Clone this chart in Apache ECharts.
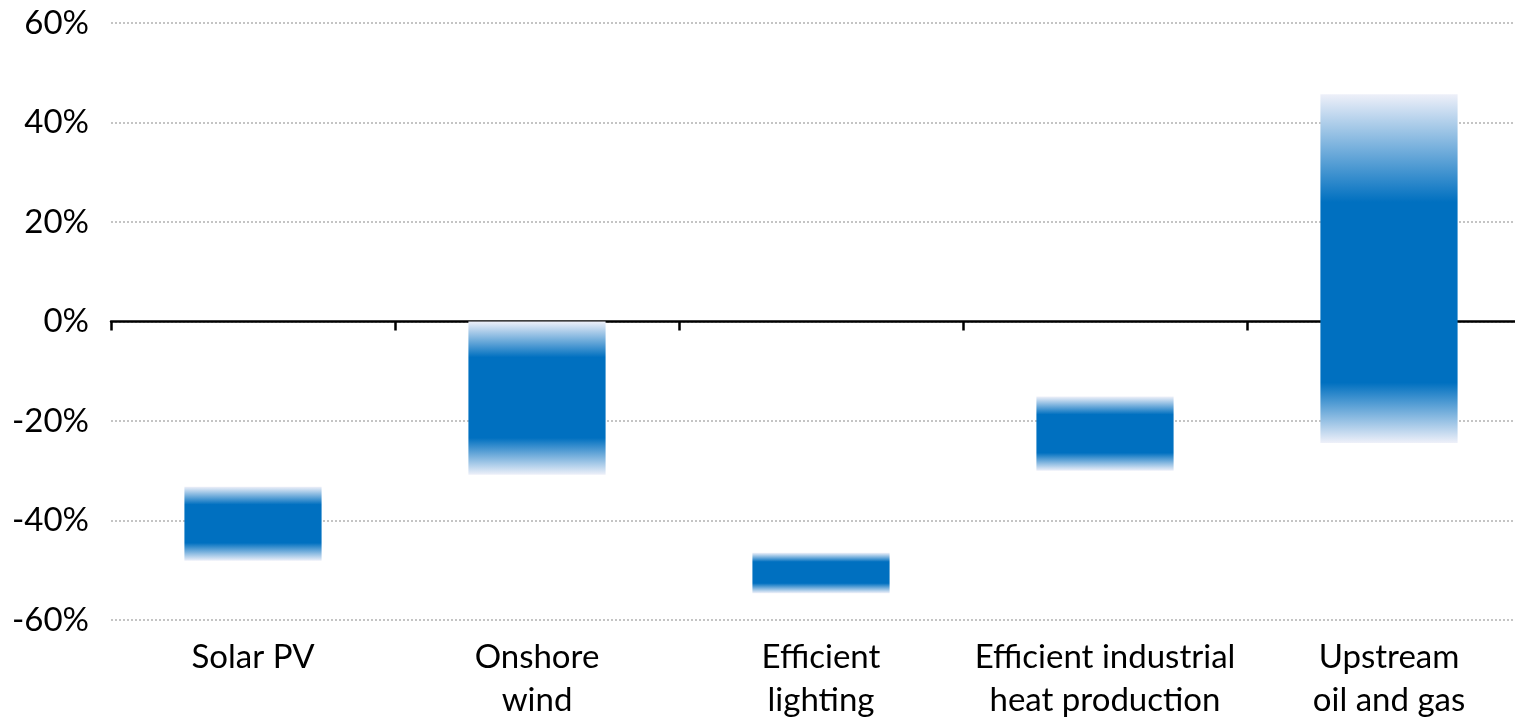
<!DOCTYPE html>
<html>
<head>
<meta charset="utf-8">
<script src="https://cdn.jsdelivr.net/npm/echarts@6/dist/echarts.min.js"></script>
<style>html,body{margin:0;padding:0;background:#fff}#c{width:1515px;height:719px}</style>
</head>
<body>
<div id="c"></div>
<script>
// Data (percent)
var categories = ['Solar PV', 'Onshore\nwind', 'Efficient\nlighting', 'Efficient industrial\nheat production', 'Upstream\noil and gas'];
var rangeHigh = [-33.2, 0, -46.5, -15.1, 45.7];   // outer top of faded bar
var coreHigh  = [-36.8, -7.2, -48.3, -18.7, 24.0]; // solid part top
var coreLow   = [-44.5, -23.4, -52.6, -26.4, -12.3]; // solid part bottom
var rangeLow  = [-48.1, -30.8, -54.6, -30.0, -24.4]; // outer bottom of faded bar
var yTicks = {min: -60, max: 60, interval: 20};

var seriesData = categories.map(function (c, i) {
  return [i, rangeHigh[i], coreHigh[i], coreLow[i], rangeLow[i]];
});

var FONT = 'Lato';
var chart = echarts.init(document.getElementById('c'));
chart.setOption({
  animation: false,
  grid: {left: 111, width: 1420, top: 23, height: 597, containLabel: false, outerBoundsMode: 'none'},
  xAxis: [{
    type: 'category', data: categories, position: 'bottom',
    axisLine: {show: false, onZero: false}, axisTick: {show: false},
    axisLabel: {color: '#000', fontFamily: FONT, fontSize: 33, lineHeight: 43, margin: 16, interval: 0}
  }, {
    type: 'category', data: categories, position: 'bottom',
    axisLine: {show: true, onZero: true, lineStyle: {color: '#000', width: 2.5}},
    axisTick: {show: true, length: 9, lineStyle: {color: '#000', width: 2.5}},
    axisLabel: {show: false}
  }],
  yAxis: {
    type: 'value', min: yTicks.min, max: yTicks.max, interval: yTicks.interval,
    axisLine: {show: false}, axisTick: {show: false},
    axisLabel: {formatter: '{value}%', color: '#000', fontFamily: FONT, fontSize: 33, margin: 22},
    splitLine: {show: true, lineStyle: {color: '#c4c4c4', width: 2, type: [2, 2]}}
  },
  series: [{
    type: 'custom',
    xAxisIndex: 0,
    z: 1,
    data: seriesData,
    encode: {x: 0, y: [1, 4]},
    renderItem: function (params, api) {
      var idx = api.value(0);
      var hi = api.value(1), ch = api.value(2), cl = api.value(3), lo = api.value(4);
      var pTop = api.coord([idx, hi]);
      var pBot = api.coord([idx, lo]);
      var w = api.size([1, 0])[0] * 0.483;
      var span = hi - lo;
      var f1 = (hi - ch) / span, f2 = (hi - cl) / span;
      var blue = '#0070C0', pale = '#eef0f9';
      return {
        type: 'rect',
        shape: {x: pTop[0] - w / 2, y: pTop[1], width: w, height: pBot[1] - pTop[1]},
        style: {
          fill: new echarts.graphic.LinearGradient(0, 0, 0, 1, [
            {offset: 0, color: pale},
            {offset: f1, color: blue},
            {offset: f2, color: blue},
            {offset: 1, color: pale}
          ])
        }
      };
    }
  }]
});
</script>
</body>
</html>
